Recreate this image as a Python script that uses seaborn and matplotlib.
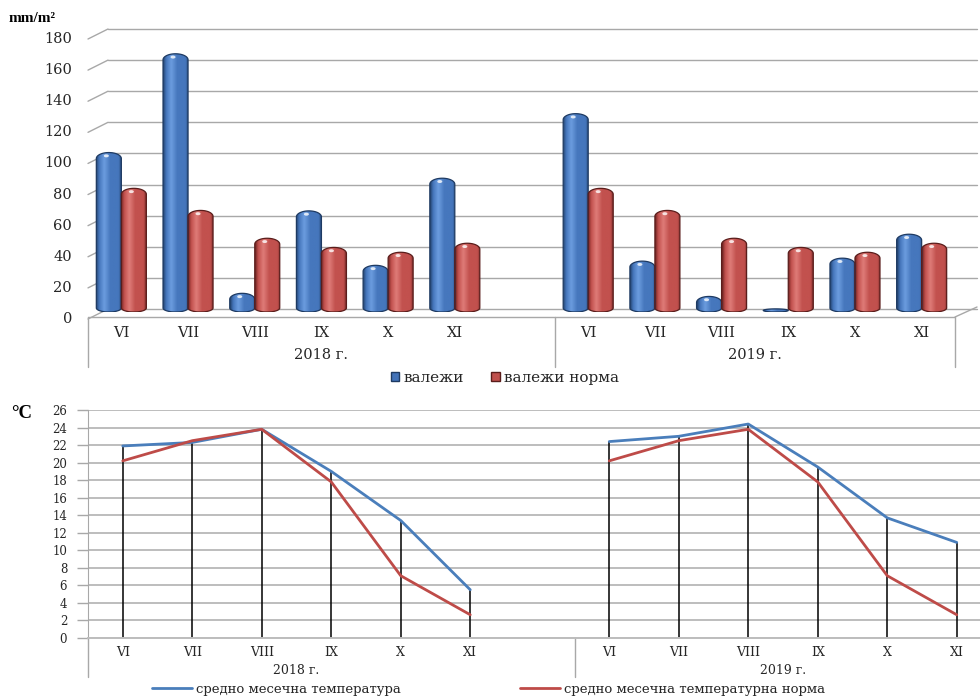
import numpy as np
import pandas as pd
import matplotlib
matplotlib.use("Agg")
import matplotlib.pyplot as plt
import seaborn as sns
from matplotlib.patches import Polygon, Ellipse, Patch
from matplotlib.lines import Line2D
from matplotlib.colors import LinearSegmentedColormap, to_rgba
from matplotlib.transforms import ScaledTranslation, blended_transform_factory

# ---------------------------------------------------------------- data
months = ["VI", "VII", "VIII", "IX", "X", "XI"]
years = ["2018 г.", "2019 г."]

rain_2018 = [102.5, 166, 12, 65, 30, 86]
rain_2019 = [127.5, 32.7, 10, 2, 34.6, 50]
rain_norm = [79.5, 65.3, 47.4, 41.5, 38.4, 44.2]

temp_2018 = [21.9, 22.3, 23.8, 19.0, 13.4, 5.5]
temp_2019 = [22.4, 23.0, 24.4, 19.5, 13.7, 10.9]
temp_norm = [20.2, 22.5, 23.8, 17.8, 7.1, 2.65]

rain_ticks = list(range(0, 181, 20))
temp_ticks = list(range(0, 27, 2))

series_rain = ["валежи", "валежи норма"]
series_temp = ["средно месечна температура", "средно месечна температурна норма"]

# ---------------------------------------------------------------- style
sns.set_style("white")
plt.rcParams["font.family"] = ["DejaVu Serif"]
TXT = "#262626"
GRID = "#BDBDBD"
AXC = "#A8A8A8"
BLUE = "#4272B8"
RED = "#C0504D"
BLUE_L = "#4A7EBB"
RED_L = "#BE4B48"

DPI = 100
W, H = 980, 697
fig = plt.figure(figsize=(W / DPI, H / DPI), dpi=DPI)
fig.patch.set_facecolor("white")


def fx(px):
    return px / W


def fy(py):
    return 1 - py / H


def shift(dx, dy):
    """Offset in pixels (dy positive downwards)."""
    return ScaledTranslation(dx / DPI, -dy / DPI, fig.dpi_scale_trans)


# slot positions: six months per year, one empty slot between the years
def slot(yi, mi):
    return yi * 7 + mi


# ================================================================ precipitation
rows = []
for yi, (yr, vals) in enumerate(zip(years, [rain_2018, rain_2019])):
    for mi, m in enumerate(months):
        rows.append(dict(pos=slot(yi, mi), year=yr, month=m,
                         series=series_rain[0], value=vals[mi]))
        rows.append(dict(pos=slot(yi, mi), year=yr, month=m,
                         series=series_rain[1], value=rain_norm[mi]))
df_rain = pd.DataFrame(rows)

ax1 = fig.add_axes([fx(88), fy(312), fx(955) - fx(88), fy(32) - fy(312)])
ax1.patch.set_alpha(0)
sns.barplot(data=df_rain, x="pos", y="value", hue="series", hue_order=series_rain,
            palette=[BLUE, RED], native_scale=True, width=0.75, saturation=1,
            errorbar=None, legend=False, ax=ax1)

ymax = 180
ax1.set_xlim(-0.5, 12.5)
ax1.set_ylim(0, ymax)
ax1.set_xlabel("")
ax1.set_ylabel("")
ax1.set_xticks([])
ax1.set_yticks([])
for s in ax1.spines.values():
    s.set_visible(False)

ax_h_px = 280.0
u_per_px = ymax / ax_h_px

shades = {
    "blue": dict(dark="#23436F", light="#6C9DDF", base="#4677BD", edge="#1E3A62"),
    "red": dict(dark="#6C2220", light="#DF7C78", base="#C2514E", edge="#5A1D1B"),
}


def cylinder(ax, patch, sh):
    """Redraw a seaborn bar as a shaded rod with rounded ends."""
    x0, w, h = patch.get_x(), patch.get_width(), patch.get_height()
    patch.set_visible(False)
    cx = x0 + w / 2
    rt = min(6 * u_per_px, h / 2)   # dome radius (vertical, data units)
    rb = min(4 * u_per_px, h / 2)   # bottom rounding
    yb, yt = rb, h - rt
    t1 = np.linspace(np.pi, 2 * np.pi, 40)
    t2 = np.linspace(0, np.pi, 40)
    xs = np.concatenate([cx + w / 2 * np.cos(t1), cx + w / 2 * np.cos(t2)])
    ys = np.concatenate([yb + rb * np.sin(t1), yt + rt * np.sin(t2)])
    outline = Polygon(np.column_stack([xs, ys]), closed=True, facecolor="none",
                      edgecolor=sh["edge"], lw=0.9, zorder=4)
    ax.add_patch(outline)
    cmap = LinearSegmentedColormap.from_list(
        "rod", [(0, sh["dark"]), (0.12, sh["base"]), (0.32, sh["light"]),
                (0.55, sh["base"]), (0.88, sh["base"]), (1, sh["dark"])])
    grad = cmap(np.linspace(0, 1, 64))[None, :, :]
    im = ax.imshow(grad, extent=(x0, x0 + w, 0, h), aspect="auto",
                   interpolation="bicubic", zorder=3)
    im.set_clip_path(outline)
    if h > 8 * u_per_px:
        hl = Ellipse((cx - w * 0.1, h - rt * 0.55), w * 0.2, rt * 0.5,
                     facecolor="white", edgecolor="none", alpha=0.8, zorder=6)
        ax.add_patch(hl)


for p in list(ax1.patches):
    fc = p.get_facecolor()
    key = "blue" if np.allclose(fc, to_rgba(BLUE), atol=0.02) else "red"
    cylinder(ax1, p, shades[key])

ax1.set_xlim(-0.5, 12.5)
ax1.set_ylim(0, ymax)

# back wall gridlines and the oblique ticks on the left
back_x0 = 20 / 867
back_x1 = 1 + 22 / 867
rise = 10 * u_per_px
tr_ay = blended_transform_factory(ax1.transAxes, ax1.transData)
for v in rain_ticks:
    ax1.plot([back_x0, back_x1], [v, v], color=AXC, lw=1.0, zorder=0,
             clip_on=False, transform=tr_ay + shift(0, -3))
    ax1.plot([0, back_x0], [v, v + rise], color=AXC, lw=1.0, zorder=0,
             clip_on=False, transform=tr_ay + shift(0, 7))
    ax1.text(0, v, str(v), ha="right", va="center", fontsize=10.5, color=TXT,
             transform=tr_ay + shift(-16, 7))

# floor front edge and right oblique edge
ax1.plot([0, 1], [0, 0], color=AXC, lw=1.0, clip_on=False,
         transform=tr_ay + shift(0, 5))
ax1.plot([1, back_x1], [0, rise], color=AXC, lw=1.0, clip_on=False,
         transform=tr_ay + shift(0, 5))

# category axis: months, years, separators
tr_xa = blended_transform_factory(ax1.transData, ax1.transAxes)
for yi, yr in enumerate(years):
    for mi, m in enumerate(months):
        ax1.text(slot(yi, mi), 0, m, ha="center", va="center", fontsize=10.5,
                 color=TXT, transform=tr_xa + shift(0, 21))
    ax1.text(3.0 if yi == 0 else (slot(yi, 0) + slot(yi, 5)) / 2, 0, yr,
             ha="center", va="center", fontsize=10.5, color=TXT,
             transform=tr_xa + shift(0, 43))
for xs in [-0.5, 6.5, 12.5]:
    ax1.add_line(Line2D([xs, xs], [-5 / ax_h_px, -55 / ax_h_px], color=AXC,
                        lw=1.0, clip_on=False, transform=tr_xa))

fig.text(fx(9), fy(18), "mm/m²", fontsize=11, fontweight="bold",
         family=["Liberation Serif", "DejaVu Serif"], ha="left", va="center",
         color="black")

fig.legend(handles=[Patch(facecolor=BLUE, edgecolor="#1E3A62"),
                    Patch(facecolor=RED, edgecolor="#5A1D1B")],
           labels=series_rain, loc="center", bbox_to_anchor=(fx(505), fy(378)),
           ncol=2, frameon=False, handlelength=0.55, handleheight=0.55,
           handletextpad=0.3, columnspacing=1.8, fontsize=11,
           borderpad=0, borderaxespad=0, labelcolor=TXT)

# ================================================================ temperature
rows = []
for yi, (yr, vals) in enumerate(zip(years, [temp_2018, temp_2019])):
    for mi, m in enumerate(months):
        rows.append(dict(pos=slot(yi, mi), year=yr, month=m,
                         series=series_temp[0], value=vals[mi]))
        rows.append(dict(pos=slot(yi, mi), year=yr, month=m,
                         series=series_temp[1], value=temp_norm[mi]))
df_temp = pd.DataFrame(rows)

ax2_w_px = 13 * 69.5
ax2_h_px = 228.0
ax2 = fig.add_axes([fx(88), fy(638), ax2_w_px / W, ax2_h_px / H])

# drop lines up to the higher of the two values
for yi, vals in enumerate([temp_2018, temp_2019]):
    pos = [slot(yi, mi) for mi in range(len(months))]
    ax2.vlines(pos, 0, np.maximum(vals, temp_norm), color="black", lw=1.1, zorder=2)

sns.lineplot(data=df_temp, x="pos", y="value", hue="series", hue_order=series_temp,
             units="year", estimator=None, palette=[BLUE_L, RED_L], linewidth=2,
             legend=False, ax=ax2, zorder=3)

ax2.set_xlim(-0.5, 12.5)
ax2.set_ylim(0, 26)
ax2.set_xlabel("")
ax2.set_ylabel("")
ax2.set_xticks([])
ax2.set_yticks(temp_ticks)
ax2.set_yticklabels([str(v) for v in temp_ticks])
ax2.tick_params(axis="y", length=8, width=1, color=AXC, labelsize=8.5,
                labelcolor=TXT, pad=7, left=True)
ax2.grid(axis="y", color=GRID, lw=1.4)
ax2.grid(axis="x", visible=False)
ax2.set_axisbelow(True)
for side in ["top", "right"]:
    ax2.spines[side].set_visible(False)
ax2.spines["left"].set_color(AXC)
ax2.spines["bottom"].set_color(GRID)
ax2.spines["bottom"].set_linewidth(1.4)

tr2_xa = blended_transform_factory(ax2.transData, ax2.transAxes)
for yi, yr in enumerate(years):
    for mi, m in enumerate(months):
        ax2.text(slot(yi, mi), 0, m, ha="center", va="center", fontsize=9,
                 color=TXT, transform=tr2_xa + shift(0, 14))
    ax2.text((slot(yi, 0) + slot(yi, 5)) / 2, 0, yr, ha="center", va="center",
             fontsize=9, color=TXT, transform=tr2_xa + shift(0, 32))
for xs in [-0.5, 6.5, 12.5]:
    ax2.add_line(Line2D([xs, xs], [0, -39 / ax2_h_px], color=AXC, lw=1.0,
                        clip_on=False, transform=tr2_xa))

fig.text(fx(11), fy(413), "°C", fontsize=13.5, fontweight="bold",
         family=["Liberation Serif", "DejaVu Serif"], ha="left", va="center",
         color="black")

for lab, col, x0 in [(series_temp[0], BLUE_L, 152), (series_temp[1], RED_L, 520)]:
    fig.legend(handles=[Line2D([], [], color=col, lw=2)], labels=[lab],
               loc="center left", bbox_to_anchor=(fx(x0), fy(689)), frameon=False,
               handlelength=3.0, handletextpad=0.3, fontsize=9.5, borderpad=0,
               borderaxespad=0, labelcolor=TXT)

fig.savefig("out.png", dpi=DPI)
